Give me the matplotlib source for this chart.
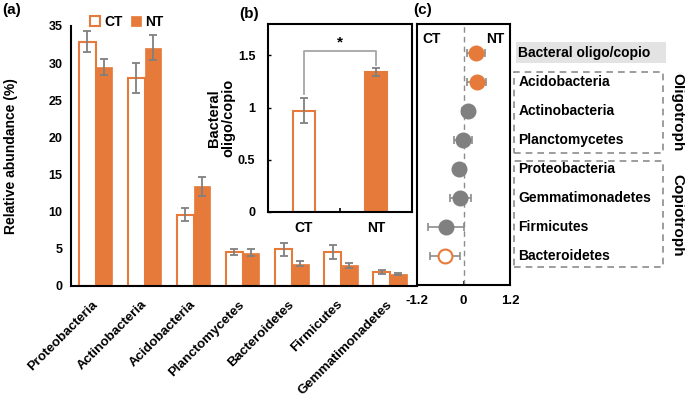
import matplotlib
matplotlib.use("Agg")
import matplotlib.pyplot as plt
import numpy as np
from matplotlib.patches import Rectangle

plt.rcParams["font.family"] = ["Liberation Sans", "DejaVu Sans"]
plt.rcParams["font.weight"] = "bold"
plt.rcParams["axes.labelweight"] = "bold"

ORANGE = "#E67A3B"
GRAY = "#808080"

# (a) relative abundance of phyla
phyla = ["Proteobacteria", "Actinobacteria", "Acidobacteria", "Planctomycetes",
         "Bacteroidetes", "Firmicutes", "Gemmatimonadetes"]
ct_mean = [32.9, 28.0, 9.6, 4.55, 4.95, 4.55, 1.9]
ct_err = [1.4, 2.0, 0.85, 0.4, 0.85, 0.95, 0.25]
nt_mean = [29.5, 32.1, 13.4, 4.5, 3.0, 2.8, 1.6]
nt_err = [1.05, 1.65, 1.3, 0.45, 0.3, 0.35, 0.18]

# (b) oligo/copio ratio
ratio_groups = ["CT", "NT"]
ratio_mean = [0.97, 1.34]
ratio_err = [0.12, 0.04]

# (c) effect sizes
effect_labels = ["Bacteral oligo/copio", "Acidobacteria", "Actinobacteria", "Planctomycetes",
                 "Proteobacteria", "Gemmatimonadetes", "Firmicutes", "Bacteroidetes"]
effect_mean = [0.33, 0.34, 0.11, -0.02, -0.11, -0.08, -0.45, -0.48]
effect_err = [0.23, 0.24, 0.15, 0.23, 0.1, 0.28, 0.46, 0.39]
effect_style = ["nt", "nt", "ns", "ns", "ns", "ns", "ns", "ct"]

W, H = 685, 396
fig = plt.figure(figsize=(W / 100, H / 100), dpi=100)


def frac(x0, y0, x1, y1):
    return [x0 / W, 1 - y1 / H, (x1 - x0) / W, (y1 - y0) / H]


# ---- panel (a)
ax = fig.add_axes(frac(71, 26, 417, 286))
x = np.arange(len(phyla))
bw = 0.34
ekw = dict(ecolor=GRAY, elinewidth=1.3, capsize=3, capthick=1.3)
ax.bar(x - bw / 2, ct_mean, bw, yerr=ct_err, color="white", edgecolor=ORANGE,
       linewidth=1.5, error_kw=ekw, label="CT")
ax.bar(x + bw / 2, nt_mean, bw, yerr=nt_err, color=ORANGE, edgecolor=ORANGE,
       linewidth=0.5, error_kw=ekw, label="NT")
ax.set_xlim(-0.5, 6.55)
ax.set_ylim(0, 35)
ax.set_yticks(range(0, 36, 5))
ax.set_xticks(x)
ax.set_xticklabels(phyla, rotation=45, ha="right", va="center", rotation_mode="anchor",
                   fontsize=9.6)
ax.tick_params(axis="both", length=0)
ax.tick_params(axis="y", pad=6, labelsize=9)
ax.tick_params(axis="x", pad=12)
for s in ["top", "right"]:
    ax.spines[s].set_visible(False)
for s in ["left", "bottom"]:
    ax.spines[s].set_linewidth(1.5)
ax.set_ylabel("Relative abundance (%)", fontsize=10, labelpad=22)
ax.legend(loc="upper left", bbox_to_anchor=(0.02, 1.09), ncol=2, frameon=False,
          handlelength=0.7, handleheight=0.7, handletextpad=0.3, columnspacing=0.6,
          prop=dict(size=10, weight="bold"))

# ---- panel (b)
axb = fig.add_axes(frac(268, 24, 412, 212))
axb.bar([0, 1], ratio_mean, 0.3, yerr=ratio_err,
        color=["white", ORANGE], edgecolor=ORANGE, linewidth=1.5, error_kw=ekw)
axb.set_xlim(-0.5, 1.5)
axb.set_ylim(0, 1.8)
axb.set_yticks([0, 0.5, 1, 1.5])
axb.set_yticklabels(["0", "0.5", "1", "1.5"])
axb.set_xticks([0.5])
axb.set_xticklabels([""])
axb.tick_params(axis="x", direction="in", length=3, width=1.2)
axb.tick_params(axis="y", direction="in", length=2.5, width=1, pad=9, labelsize=9)
for lbl, xi in zip(ratio_groups, [0, 1]):
    axb.text(xi, -0.09, lbl, ha="center", va="top", fontsize=10)
for s in axb.spines.values():
    s.set_linewidth(1.5)
axb.set_ylabel("Bacteral\noligo/copio", fontsize=10.5, labelpad=2, linespacing=1.05)
bx = [0, 0, 1, 1]
by = [ratio_mean[0] + ratio_err[0] + 0.04, 1.54, 1.54, ratio_mean[1] + ratio_err[1] + 0.03]
axb.plot(bx, by, color="#A6A6A6", lw=1.3)
axb.text(0.5, 1.56, "*", ha="center", va="bottom", fontsize=11)

# ---- panel (c)
axc = fig.add_axes(frac(417, 24, 510, 285))
axc.set_zorder(2)
rows = np.arange(len(effect_labels))
axc.axvline(0, color="#8C8C8C", lw=1, ls=(0, (4, 3)))
for r, m, e, st in zip(rows, effect_mean, effect_err, effect_style):
    axc.errorbar(m, r, xerr=e, fmt="none", ecolor="#8C8C8C", elinewidth=1.2,
                 capsize=3, capthick=1.2)
    if st == "nt":
        fc, ec = ORANGE, ORANGE
    elif st == "ct":
        fc, ec = "white", ORANGE
    else:
        fc, ec = GRAY, GRAY
    axc.plot(m, r, "o", ms=10, mfc=fc, mec=ec, mew=1.5, zorder=3)
axc.set_xlim(-1.2, 1.2)
axc.set_ylim(8, -1)
axc.set_yticks([])
axc.set_xticks([-1.2, 0, 1.2])
axc.set_xticklabels(["-1.2", "0", "1.2"])
axc.tick_params(axis="x", direction="in", length=3, width=1.2, pad=7, labelsize=9.5)
for s in axc.spines.values():
    s.set_linewidth(1.5)
axc.text(0.06, 0.97, "CT", transform=axc.transAxes, ha="left", va="top", fontsize=10)
axc.text(0.94, 0.97, "NT", transform=axc.transAxes, ha="right", va="top", fontsize=10)
for r, lbl in zip(rows, effect_labels):
    axc.text(1.09, r, lbl, transform=axc.get_yaxis_transform(), ha="left", va="center",
             fontsize=10, clip_on=False, zorder=5)

# highlight and group boxes
fig.patches.append(Rectangle((516 / W, 1 - 63 / H), 150 / W, 21 / H,
                             transform=fig.transFigure, facecolor="#E3E3E3",
                             edgecolor="none", zorder=-1))
for y0, y1 in [(72, 153), (161, 267)]:
    fig.patches.append(Rectangle((514 / W, 1 - y1 / H), 149 / W, (y1 - y0) / H,
                                 transform=fig.transFigure, facecolor="none",
                                 edgecolor="#8C8C8C", lw=1.2, ls=(0, (4, 3)), zorder=-1))
fig.text(677 / W, 1 - 112 / H, "Oligotroph", rotation=-90, ha="center", va="center",
         fontsize=11)
fig.text(677 / W, 1 - 215 / H, "Copiotroph", rotation=-90, ha="center", va="center",
         fontsize=11)

# panel letters
fig.text(2 / W, 1 - 10 / H, "(a)", ha="left", va="center", fontsize=11)
fig.text(239 / W, 1 - 14 / H, "(b)", ha="left", va="center", fontsize=11)
fig.text(413 / W, 1 - 10 / H, "(c)", ha="left", va="center", fontsize=11)

fig.savefig("out.png", dpi=100)
